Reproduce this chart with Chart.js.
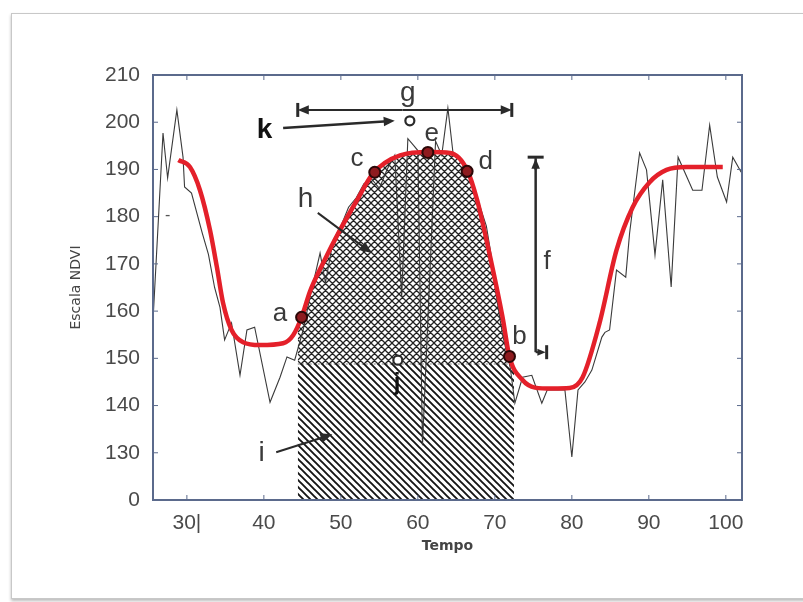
<!DOCTYPE html>
<html>
<head>
<meta charset="utf-8">
<script src="https://cdn.jsdelivr.net/npm/chart.js@4.4.1/dist/chart.umd.min.js"></script>
<style>
  html, body { margin: 0; padding: 0; background: #fff; }
  #moldura {
    position: absolute; left: 11px; top: 13px; width: 800px; height: 584px;
    border: 1px solid #c8c8c8; box-shadow: 0 2px 3px #bbb; background: #fff;
  }
  #wrap { position: absolute; left: 0; top: 0; width: 803px; height: 602px; }
</style>
</head>
<body>
<div id="moldura"></div>
<div id="wrap"><canvas id="grafico" width="803" height="602"></canvas></div>
<script>
// serie original (ruidosa)
const tempoNdvi = [25.6, 26.9, 27.5, 28.7, 29.5, 29.7, 30.6, 32, 32.8, 33.6, 34.3, 34.9, 35.8, 36.9, 37.8, 38.8, 40.8, 42.1, 43, 44, 45.1, 46, 47.3, 48, 49, 50, 51, 52, 53, 54, 55, 56, 57, 57.9, 58.7, 59.5, 60, 60.6, 62.3, 63.1, 63.9, 64.6, 65.5, 66.5, 67.5, 68.9, 69.5, 70.3, 71, 72, 72.6, 73.6, 74.8, 76.1, 76.8, 79.1, 80, 80.8, 81.7, 82.6, 83.9, 84.3, 84.9, 85.8, 87, 87.5, 88.8, 89.7, 90.8, 91.8, 92.9, 93.8, 95.7, 96.9, 97.9, 98.9, 100.1, 100.9, 102];
const valorNdvi = [158, 197.7, 188.2, 202.6, 192.6, 186.3, 185, 176.5, 172, 165, 160.8, 153.9, 157.5, 146.4, 156, 156.6, 140.7, 146, 150.3, 149.6, 156, 163, 172.3, 166, 175, 178, 182, 184, 187, 188, 186, 190, 193, 163, 196.5, 195, 194, 131.6, 196, 193, 203, 193, 192, 189, 185, 178, 172, 162, 155, 148, 140.5, 146, 146.4, 140.5, 143.3, 143.3, 129.1, 143.3, 145, 147.5, 154.5, 155.5, 156, 168.7, 167.2, 176.5, 193.5, 189.9, 171.9, 187.8, 165.1, 192.6, 185.6, 185.6, 199.4, 188.4, 183.1, 192.6, 189.4];

// curva ajustada (vermelha)
const tempoAjuste = [28.9, 30.4, 31.7, 33, 33.9, 34.7, 35.8, 37.3, 39.5, 42.5, 43.8, 44.9, 46, 47.7, 49.9, 52.1, 54.2, 57.7, 61.5, 64.2, 66.4, 67.7, 69.4, 71, 71.9, 73.6, 75.2, 77.5, 79.7, 81.4, 83.6, 85.8, 87.9, 90.1, 92.3, 94.9, 99.6];
const valorAjuste = [192, 190.5, 185.6, 177.2, 169.3, 161.7, 156, 153.4, 152.8, 153.2, 154.9, 158.7, 164.2, 170.2, 177.2, 183.5, 189.2, 193, 193.7, 193.5, 189.9, 183.5, 171.4, 158.7, 150.3, 145.4, 143.8, 143.6, 143.7, 146, 157.5, 172.9, 182, 187.3, 189.9, 190.5, 190.5];

// pontos da estacao a..e
const tempoPontos = [44.9, 54.4, 61.3, 66.4, 71.9];
const valorPontos = [158.7, 189.4, 193.6, 189.6, 150.4];

// area hachurada: inicio/fim da estacao e nivel base
const inicioEstacao = 44.4;
const fimEstacao = 72.5;
const topoInicio = 156.5;
const nivelBase = 148.8;

const ticksX = [30, 40, 50, 60, 70, 80, 90, 100];
const rotulosX = ['30|', '40', '50', '60', '70', '80', '90', '100'];
const ticksY = [120, 130, 140, 150, 160, 170, 180, 190, 200, 210];
const rotulosY = ['0', '130', '140', '150', '160', '170', '180', '190', '200', '210'];

function padrao(cruzado) {
  const s = cruzado ? 7 : 7;
  const c = document.createElement('canvas');
  c.width = s; c.height = s;
  const g = c.getContext('2d');
  g.strokeStyle = cruzado ? '#222' : '#151515';
  g.lineWidth = cruzado ? 1.3 : 1.9;
  g.beginPath();
  g.moveTo(-1, -1); g.lineTo(s + 1, s + 1);
  g.moveTo(-1, s - 1); g.lineTo(1, s + 1);
  g.moveTo(s - 1, -1); g.lineTo(s + 1, 1);
  if (cruzado) {
    g.moveTo(-1, s + 1); g.lineTo(s + 1, -1);
    g.moveTo(-1, 1); g.lineTo(1, -1);
    g.moveTo(s - 1, s + 1); g.lineTo(s + 1, s - 1);
  }
  g.stroke();
  return g.createPattern(c, 'repeat');
}

const pares = (xs, ys) => xs.map((x, i) => ({ x: x, y: ys[i] }));

// topo da area cruzada = curva ajustada dentro da estacao
const topoCruzado = [{ x: inicioEstacao, y: topoInicio }]
  .concat(pares(tempoAjuste, valorAjuste).filter(p => p.x > inicioEstacao && p.x < fimEstacao))
  .concat([{ x: fimEstacao, y: nivelBase }]);
const baseEstacao = [{ x: inicioEstacao, y: nivelBase }, { x: fimEstacao, y: nivelBase }];

const cinza = '#2a2a2a';
const notas = {
  id: 'notas',
  afterDatasetsDraw(chart) {
    const { ctx, chartArea: ca, scales: { x, y } } = chart;
    const px = v => x.getPixelForValue(v);
    const py = v => y.getPixelForValue(v);
    ctx.save();

    // ticks para dentro
    ctx.strokeStyle = '#5b6a8c';
    ctx.lineWidth = 1;
    ctx.beginPath();
    ticksX.forEach(t => {
      ctx.moveTo(px(t), ca.top); ctx.lineTo(px(t), ca.top + 5);
      ctx.moveTo(px(t), ca.bottom); ctx.lineTo(px(t), ca.bottom - 5);
    });
    ticksY.forEach(t => {
      ctx.moveTo(ca.left, py(t)); ctx.lineTo(ca.left + 5, py(t));
      ctx.moveTo(ca.right, py(t)); ctx.lineTo(ca.right - 5, py(t));
    });
    ctx.stroke();
    ctx.lineWidth = 2;
    ctx.strokeRect(ca.left, ca.top, ca.right - ca.left, ca.bottom - ca.top);

    function seta(x1, y1, x2, y2, tam) {
      const a = Math.atan2(y2 - y1, x2 - x1);
      ctx.beginPath();
      ctx.moveTo(x1, y1); ctx.lineTo(x2 - Math.cos(a) * tam * 0.6, y2 - Math.sin(a) * tam * 0.6);
      ctx.stroke();
      ctx.beginPath();
      ctx.moveTo(x2, y2);
      ctx.lineTo(x2 - tam * Math.cos(a - 0.4), y2 - tam * Math.sin(a - 0.4));
      ctx.lineTo(x2 - tam * Math.cos(a + 0.4), y2 - tam * Math.sin(a + 0.4));
      ctx.closePath();
      ctx.fill();
    }
    function barra(xc, yc, vertical) {
      ctx.beginPath();
      if (vertical) { ctx.moveTo(xc, yc - 7); ctx.lineTo(xc, yc + 7); }
      else { ctx.moveTo(xc - 8, yc); ctx.lineTo(xc + 8, yc); }
      ctx.stroke();
    }
    ctx.strokeStyle = cinza;
    ctx.fillStyle = cinza;
    ctx.lineWidth = 2;

    // g: duracao da estacao
    const gy = py(202.6);
    seta(px(58), gy, px(inicioEstacao), gy, 12);
    seta(px(58), gy, px(fimEstacao - 0.3), gy, 12);
    ctx.lineWidth = 3;
    barra(px(inicioEstacao), gy, true);
    barra(px(fimEstacao - 0.3), gy, true);

    // f: amplitude
    const fx = px(75.3);
    ctx.lineWidth = 2.5;
    ctx.beginPath(); ctx.moveTo(fx, py(192.4)); ctx.lineTo(fx, py(151.3)); ctx.stroke();
    ctx.lineWidth = 3;
    barra(fx, py(192.6), false);
    seta(fx, py(190), fx, py(192.3), 11);
    ctx.lineWidth = 2;
    seta(fx, py(151.3), fx + 10, py(151.3), 9);
    ctx.lineWidth = 3;
    barra(fx + 11, py(151.3), true);

    // setas k, h, i
    ctx.lineWidth = 2.5;
    seta(px(42.5), py(198.8), px(57), py(200.3), 12);
    ctx.lineWidth = 2;
    seta(px(47), py(180.8), px(54), py(172.3), 13);
    seta(px(41.6), py(130.1), px(48.9), py(133.9), 13);

    // circulos abertos k e j
    ctx.fillStyle = '#fff';
    ctx.lineWidth = 2.2;
    [[58.96, 200.3], [57.4, 149.6]].forEach(([a, b]) => {
      ctx.beginPath(); ctx.arc(px(a), py(b), 4.5, 0, Math.PI * 2); ctx.fill(); ctx.stroke();
    });

    // rotulos
    ctx.textAlign = 'center';
    ctx.textBaseline = 'middle';
    const texto = (t, a, b, fonte, cor) => {
      ctx.font = fonte; ctx.fillStyle = cor || '#3a3a3a';
      ctx.fillText(t, px(a), py(b));
    };
    const f26 = "26px 'Liberation Sans', Arial, sans-serif";
    texto('g', 58.7, 206.2, "28px 'Liberation Sans', Arial, sans-serif");
    texto('k', 40.1, 198.3, "bold 28px 'Liberation Sans', Arial, sans-serif", '#111');
    texto('a', 42.1, 159.4, f26);
    texto('c', 52.1, 192.2, f26);
    texto('e', 61.8, 197.6, f26);
    texto('d', 68.8, 191.6, f26);
    texto('b', 73.2, 154.6, f26);
    texto('f', 76.8, 170.5, f26);
    texto('h', 45.4, 183.6, "28px 'Liberation Sans', Arial, sans-serif");
    texto('i', 39.7, 129.8, "28px 'Liberation Sans', Arial, sans-serif");
    texto('j', 57.3, 144.6, "bold 24px 'Liberation Sans', Arial, sans-serif", '#111');
    texto('-', 27.5, 180.3, "16px 'Liberation Sans', Arial, sans-serif", '#555');
    ctx.restore();
  }
};

new Chart(document.getElementById('grafico'), {
  type: 'line',
  data: {
    datasets: [
      {
        label: 'Pontos',
        data: pares(tempoPontos, valorPontos),
        showLine: false,
        pointRadius: 5.5,
        pointBackgroundColor: '#8e1b1f',
        pointBorderColor: '#2b0707',
        pointBorderWidth: 2,
        order: 0
      },
      {
        label: 'Ajuste',
        data: pares(tempoAjuste, valorAjuste),
        borderColor: '#e4202a',
        borderWidth: 4.5,
        pointRadius: 0,
        cubicInterpolationMode: 'monotone',
        order: 1
      },
      {
        label: 'NDVI',
        data: pares(tempoNdvi, valorNdvi),
        borderColor: '#3a3a3a',
        borderWidth: 1.1,
        pointRadius: 0,
        tension: 0,
        order: 2
      },
      {
        label: 'h',
        data: topoCruzado,
        borderWidth: 0,
        pointRadius: 0,
        cubicInterpolationMode: 'monotone',
        fill: { value: nivelBase },
        backgroundColor: padrao(true),
        order: 3
      },
      {
        label: 'i',
        data: baseEstacao,
        borderColor: 'rgba(30,30,30,0.6)',
        borderWidth: 1,
        borderDash: [2, 2],
        pointRadius: 0,
        fill: 'start',
        backgroundColor: padrao(false),
        order: 4
      }
    ]
  },
  options: {
    responsive: false,
    animation: false,
    layout: { padding: { left: 58, top: 75, right: 61, bottom: 40 } },
    plugins: { legend: { display: false }, tooltip: { enabled: false } },
    scales: {
      x: {
        type: 'linear',
        min: 25.6,
        max: 102.1,
        afterBuildTicks: s => { s.ticks = ticksX.map(v => ({ value: v })); },
        afterFit: s => { s.height = 62; },
        grid: { display: false },
        border: { display: false },
        ticks: {
          padding: 3,
          color: '#4a4a4a',
          font: { family: "'Liberation Sans', Arial, sans-serif", size: 21 },
          callback: v => rotulosX[ticksX.indexOf(v)]
        },
        title: {
          display: true,
          text: 'Tempo',
          color: '#444',
          font: { family: "'DejaVu Sans', sans-serif", size: 14, weight: 'bold' },
          padding: { top: 0, bottom: 7 }
        }
      },
      y: {
        min: 120,
        max: 210,
        afterBuildTicks: s => { s.ticks = ticksY.map(v => ({ value: v })); },
        afterFit: s => { s.width = 95; },
        grid: { display: false },
        border: { display: false },
        ticks: {
          padding: 5,
          color: '#4a4a4a',
          font: { family: "'Liberation Sans', Arial, sans-serif", size: 21 },
          callback: v => rotulosY[ticksY.indexOf(v)]
        },
        title: {
          display: true,
          text: 'Escala NDVI',
          color: '#444',
          font: { family: "'DejaVu Sans', sans-serif", size: 14 },
          padding: { top: 10, bottom: 0 }
        }
      }
    }
  },
  plugins: [notas]
});
</script>
</body>
</html>
